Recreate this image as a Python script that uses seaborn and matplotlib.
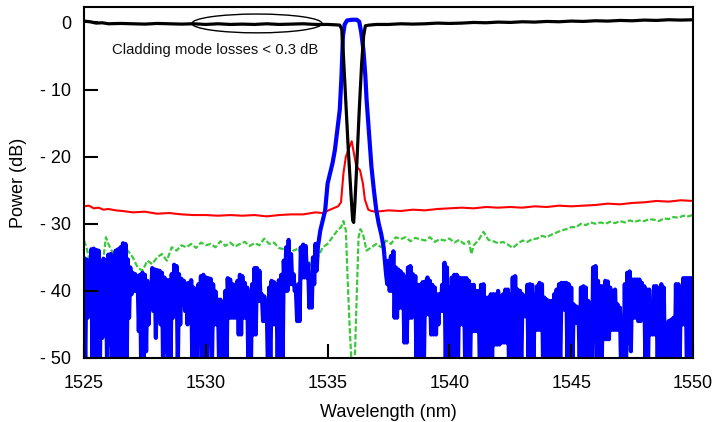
import numpy as np
import pandas as pd
import matplotlib
matplotlib.use("Agg")
import matplotlib.pyplot as plt
from matplotlib.patches import Ellipse
import seaborn as sns

# ---------------- data ----------------
# black: transmission of the fibre grating
black_wl = [1525.0, 1525.25, 1525.5, 1525.75, 1526.0, 1526.5, 1527.0, 1527.5, 1528.0, 1528.5,
            1529.0, 1529.5, 1530.0, 1530.5, 1531.0, 1531.5, 1532.0, 1532.5, 1533.0, 1533.5,
            1534.0, 1534.5, 1535.0, 1535.3, 1535.5, 1535.58, 1535.65, 1535.75, 1535.85, 1535.95,
            1536.03, 1536.07, 1536.12, 1536.2, 1536.3, 1536.4, 1536.48, 1536.55, 1536.7, 1537.0,
            1537.5, 1538.0, 1538.5, 1539.0, 1539.5, 1540.0, 1540.5, 1541.0, 1541.5, 1542.0,
            1542.5, 1543.0, 1543.5, 1544.0, 1544.5, 1545.0, 1545.5, 1546.0, 1546.5, 1547.0,
            1547.5, 1548.0, 1548.5, 1549.0, 1549.5, 1550.0]
black_db = [0.2, 0.1, -0.1, -0.05, -0.2, -0.15, -0.2, -0.25, -0.15, -0.2,
            -0.25, -0.2, -0.3, -0.2, -0.3, -0.25, -0.3, -0.2, -0.3, -0.25,
            -0.2, -0.3, -0.3, -0.35, -0.4, -1.0, -5.0, -12.0, -19.0, -25.0,
            -29.5, -29.8, -27.0, -21.0, -13.0, -6.0, -2.0, -0.5, -0.4, -0.3,
            -0.3, -0.2, -0.25, -0.2, -0.1, -0.15, -0.1, 0.0, -0.05, 0.05,
            0.0, 0.1, 0.05, 0.15, 0.1, 0.2, 0.15, 0.25, 0.2, 0.3,
            0.25, 0.35, 0.3, 0.4, 0.35, 0.4]

# red
red_wl = [1525.0, 1525.2, 1525.4, 1525.6, 1525.8, 1526.0, 1526.3, 1526.6, 1527.0, 1527.5,
          1528.0, 1528.5, 1529.0, 1529.5, 1530.0, 1530.5, 1531.0, 1531.5, 1532.0, 1532.5,
          1533.0, 1533.5, 1534.0, 1534.5, 1534.8, 1535.1, 1535.43, 1535.55, 1535.65, 1535.75,
          1535.85, 1535.99, 1536.08, 1536.18, 1536.33, 1536.45, 1536.53, 1536.67, 1536.8, 1537.0,
          1537.5, 1538.0, 1538.5, 1539.0, 1539.5, 1540.0, 1540.5, 1541.0, 1541.5, 1542.0,
          1542.5, 1543.0, 1543.5, 1544.0, 1544.5, 1545.0, 1545.5, 1546.0, 1546.5, 1547.0,
          1547.5, 1548.0, 1548.5, 1549.0, 1549.5, 1550.0]
red_db = [-27.4, -27.3, -27.7, -27.6, -27.9, -27.8, -28.0, -28.1, -28.3, -28.2,
          -28.5, -28.4, -28.6, -28.7, -28.7, -28.8, -28.7, -28.8, -28.7, -28.9,
          -28.7, -28.6, -28.6, -28.3, -28.4, -27.9, -27.4, -26.8, -22.5, -20.0,
          -19.0, -17.7, -19.5, -21.5, -22.0, -24.0, -26.4, -27.9, -28.1, -28.2,
          -28.0, -28.1, -27.9, -28.0, -27.8, -27.7, -27.6, -27.7, -27.5, -27.6,
          -27.5, -27.6, -27.4, -27.5, -27.3, -27.4, -27.3, -27.2, -27.0, -27.1,
          -26.9, -26.8, -26.6, -26.7, -26.5, -26.6]

# green (dashed)
green_wl = [1525.0, 1525.1, 1525.2, 1525.3, 1525.4, 1525.5, 1525.6, 1525.7, 1525.8, 1525.9,
            1526.0, 1526.2, 1526.4, 1526.6, 1526.8, 1527.0, 1527.2, 1527.4, 1527.6, 1527.8,
            1528.0, 1528.2, 1528.4, 1528.6, 1528.8, 1529.0, 1529.2, 1529.4, 1529.6, 1529.8,
            1530.0, 1530.2, 1530.4, 1530.6, 1530.8, 1531.0, 1531.2, 1531.4, 1531.6, 1531.8,
            1532.0, 1532.2, 1532.4, 1532.6, 1532.8, 1533.0, 1533.2, 1533.4, 1533.6, 1533.8,
            1534.0, 1534.2, 1534.4, 1534.6, 1534.8, 1535.0, 1535.2, 1535.4, 1535.55, 1535.65,
            1535.75, 1535.82, 1535.9, 1536.0, 1536.1, 1536.2, 1536.27, 1536.35, 1536.45, 1536.6,
            1536.8, 1537.0, 1537.2, 1537.4, 1537.6, 1537.8, 1538.0, 1538.2, 1538.4, 1538.6,
            1538.8, 1539.0, 1539.2, 1539.4, 1539.6, 1539.8, 1540.0, 1540.2, 1540.4, 1540.6,
            1540.8, 1540.9, 1541.0, 1541.2, 1541.4, 1541.6, 1541.8, 1542.0, 1542.2, 1542.4,
            1542.6, 1542.8, 1543.0, 1543.2, 1543.4, 1543.6, 1543.8, 1544.0, 1544.2, 1544.4,
            1544.6, 1544.8, 1545.0, 1545.2, 1545.4, 1545.6, 1545.8, 1546.0, 1546.2, 1546.4,
            1546.6, 1546.8, 1547.0, 1547.2, 1547.4, 1547.6, 1547.8, 1548.0, 1548.2, 1548.4,
            1548.6, 1548.8, 1549.0, 1549.2, 1549.4, 1549.6, 1549.8, 1550.0]
green_db = [-32.5, -33.5, -35.0, -38.0, -41.0, -45.0, -52.0, -44.0, -35.0, -32.0,
            -33.0, -34.5, -34.0, -35.5, -34.0, -35.0, -36.5, -37.0, -35.5, -36.0,
            -35.0, -34.5, -35.5, -33.5, -34.0, -33.2, -33.5, -33.0, -33.6, -32.8,
            -33.2, -33.0, -33.5, -32.6, -33.3, -32.8, -33.4, -33.0, -32.7, -33.3,
            -32.9, -33.2, -32.2, -33.0, -32.8, -33.6, -33.8, -33.5, -34.0, -33.7,
            -35.0, -35.5, -36.5, -35.0, -33.5, -33.0, -32.0, -31.0, -30.5, -29.6,
            -31.0, -38.0, -45.0, -52.0, -52.0, -40.0, -32.0, -30.8, -31.5, -34.0,
            -33.5, -33.0, -33.5, -32.5, -33.0, -32.0, -32.3, -32.0, -32.6, -32.1,
            -32.3, -32.5, -32.0, -32.7, -32.3, -32.5, -32.2, -32.8, -32.4, -33.0,
            -32.6, -34.5, -33.2, -32.4, -31.2, -32.4, -32.6, -32.9, -32.7, -33.1,
            -33.6, -33.0, -32.5, -32.7, -32.3, -32.2, -31.8, -32.0, -31.6, -31.3,
            -31.0, -30.8, -30.5, -30.5, -30.0, -30.2, -29.8, -30.0, -29.8, -30.0,
            -29.7, -29.9, -29.6, -29.8, -29.5, -29.7, -29.5, -29.6, -29.3, -29.4,
            -29.6, -29.2, -29.3, -29.0, -29.1, -28.8, -28.9, -28.7]

# blue: dense noise floor left of the peak, read as upper and lower extremes
# of the trace every 0.1 nm starting at 1525.0
blue_left_start = 1525.0
blue_left_upper = [-35.1, -35.3, -35.5, -33.8, -33.7, -33.9, -34.0, -35.8, -35.2, -35.5,
                   -34.6, -34.5, -34.8, -34.0, -33.8, -33.5, -32.9, -33.0, -35.3, -36.5,
                   -37.3, -37.5, -37.8, -37.6, -37.3, -37.6, -38.5, -40.5, -36.6, -36.8,
                   -36.9, -37.0, -37.3, -38.0, -38.4, -38.4, -37.5, -36.1, -36.3, -37.5,
                   -38.2, -38.5, -38.9, -38.8, -38.4, -39.5, -40.5, -39.0, -37.8, -37.6,
                   -38.0, -38.1, -38.2, -39.0, -40.1, -41.3, -41.3, -41.8, -40.0, -38.1,
                   -38.3, -39.0, -39.1, -38.5, -37.6, -37.8, -38.8, -39.5, -40.1, -39.0,
                   -36.6, -36.6, -37.0, -40.5, -40.8, -41.5, -39.5, -38.5, -38.7, -39.0,
                   -38.4, -37.6, -35.5, -33.5, -32.4, -34.5, -37.5, -40.0, -39.0, -33.5,
                   -33.1, -33.3, -36.0, -40.0, -35.0, -33.0]
blue_left_lower = [-52, -44, -40, -52, -52, -52, -52, -47, -45, -52,
                   -48, -52, -52, -46, -52, -52, -50, -52, -44, -40.5,
                   -40, -40, -46, -52, -52, -49, -45, -42, -43, -47,
                   -44, -45, -52, -49, -52, -52, -44, -43, -52, -45,
                   -42, -43, -45, -44, -52, -52, -52, -47, -52, -52,
                   -52, -45, -52, -45, -45, -52, -52, -52, -52, -44,
                   -44, -44, -44, -46.5, -46.5, -44, -44, -52, -52, -46.5,
                   -46.5, -41.5, -41.5, -44.5, -44.5, -52, -52, -45, -45, -52,
                   -52, -52, -40, -40, -39, -39, -40, -44.5, -44.5, -38,
                   -38, -38, -42.5, -42.5, -39, -37]
# blue: filter passband
blue_peak_wl = [1534.6, 1534.7, 1534.8, 1534.9, 1535.0, 1535.1, 1535.2, 1535.3, 1535.4, 1535.5,
                1535.57, 1535.63, 1535.7, 1535.8, 1536.0, 1536.2, 1536.3, 1536.38, 1536.47, 1536.55,
                1536.6, 1536.7, 1536.8, 1536.9, 1537.0, 1537.1, 1537.2, 1537.3]
blue_peak_db = [-33.5, -31.0, -29.5, -28.0, -24.0, -22.5, -21.0, -19.0, -16.0, -13.0,
                -8.0, -2.0, -0.3, 0.3, 0.4, 0.4, 0.1, -1.5, -4.1, -8.0,
                -11.5, -16.5, -21.5, -25.0, -28.0, -30.0, -31.5, -33.5]
# blue: dense noise floor right of the peak (every 0.1 nm from 1537.4)
blue_right_start = 1537.4
blue_right_upper = [-37.5, -35.5, -34.8, -34.1, -36.5, -36.8,
                    -37.1, -37.5, -38.0, -36.5, -36.3, -37.5, -37.8, -39.1, -39.1, -38.7,
                    -38.6, -38.0, -38.5, -39.1, -39.5, -40.5, -40.5, -39.1, -35.8, -36.5,
                    -39.5, -38.0, -37.6, -37.6, -38.0, -38.1, -38.1, -38.1, -38.5, -39.1,
                    -39.1, -40.0, -40.0, -39.1, -39.0, -41.0, -41.0, -40.5, -40.5, -40.5,
                    -40.0, -40.8, -40.5, -39.8, -39.8, -40.5, -38.0, -37.8, -39.8, -40.0,
                    -40.5, -42.0, -39.1, -39.0, -39.1, -40.5, -39.3, -38.8, -39.0, -41.0,
                    -41.3, -41.5, -41.5, -40.5, -39.8, -39.0, -38.8, -38.8, -38.8, -39.0,
                    -39.5, -42.0, -42.3, -42.5, -39.5, -39.3, -39.5, -41.5, -41.8, -36.5,
                    -36.3, -38.5, -39.3, -39.3, -38.5, -38.6, -39.5, -40.0, -39.8, -42.0,
                    -42.5, -43.8, -39.0, -37.3, -37.1, -38.3, -38.3, -38.3, -38.3, -38.8,
                    -39.3, -39.8, -39.8, -41.8, -39.3, -39.3, -40.0, -39.0, -39.5, -44.8,
                    -44.5, -44.3, -44.0, -39.0, -39.0, -39.5, -38.1, -38.1, -38.1, -38.1,
                    -38.1]
blue_right_lower = [-39, -40, -40, -44, -44, -42.5,
                    -42.5, -47.7, -47.7, -44, -44, -42, -52, -52, -52, -52,
                    -43.5, -43.5, -46.5, -46.5, -46.5, -45, -43, -43, -52, -52,
                    -52, -52, -52, -52, -45, -45, -52, -52, -52, -46,
                    -46, -46, -52, -52, -52, -52, -52, -52, -48, -48,
                    -48, -47.7, -47.7, -47.7, -52, -52, -52, -52, -52, -52,
                    -43.8, -43.8, -52, -52, -52, -45.8, -45.8, -45.8, -52, -52,
                    -52, -52, -46.8, -52, -52, -52, -42.8, -42.8, -52, -52,
                    -52, -44.8, -44.8, -52, -52, -52, -52, -52, -52, -45.8,
                    -52, -52, -52, -47.2, -47.2, -47.2, -45.8, -45.8, -45.8, -45.8,
                    -52, -52, -52, -47.7, -49, -44, -44, -44.5, -44.5, -44,
                    -52, -52, -46.5, -46.5, -46.5, -52, -52, -52, -52, -46.5,
                    -52, -52, -52, -52, -52, -45, -45, -52, -52, -49.5,
                    -49.5]

x_ticks = [1525, 1530, 1535, 1540, 1545, 1550]
y_ticks = [0, -10, -20, -30, -40, -50]
y_tick_labels = ["0", "- 10", "- 20", "- 30", "- 40", "- 50"]


# ---------------- assemble the blue trace ----------------
def dense_trace(start, upper, lower):
    """Alternate the read upper/lower extremes every 0.05 nm (the trace is
    sampled far more densely than it can be read, so it fills solid)."""
    wl, db = [], []
    for i, (u, l) in enumerate(zip(upper, lower)):
        wl += [round(start + 0.1 * i, 3), round(start + 0.1 * i + 0.05, 3)]
        db += [u, l]
    return wl, db


lw_l, ldb = dense_trace(blue_left_start, blue_left_upper, blue_left_lower)
lw_r, rdb = dense_trace(blue_right_start, blue_right_upper, blue_right_lower)
blue_wl = lw_l + blue_peak_wl + lw_r
blue_db = ldb + blue_peak_db + rdb

sns.set_theme(style="white")
plt.rcParams["font.family"] = ["Liberation Sans", "DejaVu Sans"]

fig = plt.figure(figsize=(7.16, 4.22), dpi=100)
ax = fig.add_axes([84 / 716, 64 / 422, 609 / 716, 351 / 422])

sns.lineplot(x=green_wl, y=green_db, ax=ax, color="#3cc83c", lw=1.6,
             linestyle=(0, (2.5, 1.0)), estimator=None, sort=False, zorder=2)
sns.lineplot(x=red_wl, y=red_db, ax=ax, color="#ff0000", lw=1.5,
             estimator=None, sort=False, zorder=3)
sns.lineplot(x=blue_wl, y=blue_db, ax=ax, color="#0000ff", lw=3.0,
             estimator=None, sort=False, zorder=4)
sns.lineplot(x=black_wl, y=black_db, ax=ax, color="#000000", lw=2.3,
             estimator=None, sort=False, zorder=5)

ax.add_patch(Ellipse((1532.1, -0.15), 5.34, 2.8, fill=False, lw=1.0,
                     edgecolor="black", zorder=6))
ax.text(1530.4, -4.1, "Cladding mode losses < 0.3 dB", fontsize=10.7,
        ha="center", va="center", color="#111111")

ax.set_xlim(1525, 1550)
ax.set_ylim(-50, 2.3)
ax.set_xticks(x_ticks)
ax.set_xticklabels([str(t) for t in x_ticks])
ax.set_yticks(y_ticks)
ax.set_yticklabels(y_tick_labels)
ax.tick_params(axis="both", direction="in", length=10, width=1.5,
               labelsize=13, colors="black", bottom=True, left=True,
               top=False, right=False)
ax.tick_params(axis="x", pad=12)
ax.tick_params(axis="y", pad=9)
for s in ax.spines.values():
    s.set_color("black")
    s.set_linewidth(1.5)
    s.set_visible(True)
    s.set_zorder(12)
ax.xaxis.set_zorder(11)
ax.yaxis.set_zorder(11)
ax.set_xlabel("Wavelength (nm)", fontsize=13, labelpad=9, color="black")
ax.set_ylabel("Power (dB)", fontsize=13, labelpad=10, color="black")
ax.grid(False)

fig.savefig("out.png", dpi=100)
